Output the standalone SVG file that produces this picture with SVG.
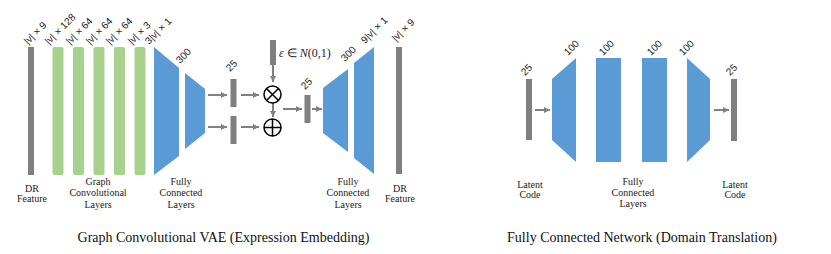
<svg xmlns="http://www.w3.org/2000/svg" width="831" height="254" viewBox="0 0 831 254">
<defs>
<style>
.gray{fill:#7f7f7f}
.green{fill:#a9d18e}
.blue{fill:#5b9bd5}
.lbl{font-family:"Liberation Sans",Arial,sans-serif;font-size:10px;fill:#222}
.cap{font-family:"Liberation Serif","Times New Roman",serif;font-size:10px;fill:#222;text-anchor:middle}
.title{font-family:"Liberation Serif","Times New Roman",serif;font-size:14px;fill:#111;text-anchor:middle}
.arr{stroke:#808080;stroke-width:2;fill:none;marker-end:url(#ah)}
.op{fill:#fff;stroke:#000;stroke-width:1.5}
</style>
<marker id="ah" markerUnits="userSpaceOnUse" markerWidth="6" markerHeight="6" refX="6" refY="3" orient="auto">
<path d="M0,0 L6,3 L0,6 z" fill="#808080"/>
</marker>
</defs>
<rect width="831" height="254" fill="#fff"/>

<g id="connectors">
<line class="arr" x1="208" y1="95" x2="227" y2="95"/>
<line class="arr" x1="208" y1="127" x2="227" y2="127"/>
<line class="arr" x1="241" y1="95" x2="259" y2="95"/>
<line class="arr" x1="241" y1="127" x2="259" y2="127"/>
<line class="arr" x1="273" y1="65" x2="273" y2="82"/>
<line class="arr" x1="273" y1="103" x2="273" y2="117"/>
<line class="arr" x1="283" y1="109" x2="302" y2="109"/>
<line class="arr" x1="312" y1="109" x2="322" y2="109"/>
<line class="arr" x1="535" y1="110" x2="550" y2="110"/>
<line class="arr" x1="714" y1="110" x2="729" y2="110"/>
</g>

<g id="dr-in">
<rect class="gray" x="28" y="47" width="6" height="128"/>
<text class="lbl" transform="translate(28,45) rotate(-45)">|v| × 9</text>
</g>
<g id="gc1">
<rect class="green" x="52.5" y="47" width="11" height="128" rx="2"/>
<text class="lbl" transform="translate(49,45) rotate(-45)">|v| × 128</text>
</g>
<g id="gc2">
<rect class="green" x="73" y="47" width="11" height="128" rx="2"/>
<text class="lbl" transform="translate(70,45) rotate(-45)">|v| × 64</text>
</g>
<g id="gc3">
<rect class="green" x="93.5" y="47" width="11" height="128" rx="2"/>
<text class="lbl" transform="translate(90,45) rotate(-45)">|v| × 64</text>
</g>
<g id="gc4">
<rect class="green" x="114" y="47" width="11" height="128" rx="2"/>
<text class="lbl" transform="translate(110,45) rotate(-45)">|v| × 64</text>
</g>
<g id="gc5">
<rect class="green" x="134.5" y="47" width="11" height="128" rx="2"/>
<text class="lbl" transform="translate(132,45) rotate(-45)">|v| × 3</text>
</g>
<g id="enc-fc1">
<polygon class="blue" points="154,47 179,68 179,156 154,175"/>
<text class="lbl" transform="translate(149,45) rotate(-45)">3|v| × 1</text>
</g>
<g id="enc-fc2">
<polygon class="blue" points="185,73 205,89 205,133 185,149"/>
<text class="lbl" transform="translate(180,64) rotate(-45)">300</text>
</g>
<g id="mu">
<rect class="gray" x="230.5" y="79" width="6" height="28"/>
<text class="lbl" transform="translate(230,72) rotate(-45)">25</text>
</g>
<g id="sigma">
<rect class="gray" x="230.5" y="116" width="6" height="28"/>
</g>
<g id="eps">
<rect class="gray" x="270" y="40" width="6" height="25"/>
<text x="279" y="57" style="font-family:'Liberation Serif','Times New Roman',serif;font-size:12px;fill:#222"><tspan font-style="italic">ε</tspan> ∈ <tspan font-style="italic">N</tspan>(0,1)</text>
</g>
<g id="mul">
<circle class="op" cx="272.5" cy="94.5" r="8.5"/>
<path d="M266.5,88.5 L278.5,100.5 M278.5,88.5 L266.5,100.5" stroke="#000" stroke-width="1.5"/>
</g>
<g id="add">
<circle class="op" cx="272.5" cy="127.5" r="8.5"/>
<path d="M264,127.5 L281,127.5 M272.5,119 L272.5,136" stroke="#000" stroke-width="1.5"/>
</g>
<g id="z">
<rect class="gray" x="304.5" y="95" width="6" height="28"/>
<text class="lbl" transform="translate(305,90) rotate(-45)">25</text>
</g>
<g id="dec-fc1">
<polygon class="blue" points="323,88 348,69 348,152 323,133"/>
<text class="lbl" transform="translate(345,62) rotate(-45)">300</text>
</g>
<g id="dec-fc2">
<polygon class="blue" points="354,63 374,47 374,174 354,158"/>
<text class="lbl" transform="translate(365,44) rotate(-45)">9|v| × 1</text>
</g>
<g id="dr-out">
<rect class="gray" x="396" y="47" width="6" height="127"/>
<text class="lbl" transform="translate(396,42) rotate(-45)">|v| × 9</text>
</g>

<g id="captions-left">
<text class="cap" x="32" y="192">DR</text>
<text class="cap" x="32" y="202">Feature</text>
<text class="cap" x="98" y="184.5">Graph</text>
<text class="cap" x="98" y="196">Convolutional</text>
<text class="cap" x="98" y="207.5">Layers</text>
<text class="cap" x="181" y="184.5">Fully</text>
<text class="cap" x="181" y="196">Connected</text>
<text class="cap" x="181" y="207.5">Layers</text>
<text class="cap" x="348" y="184.5">Fully</text>
<text class="cap" x="348" y="196">Connected</text>
<text class="cap" x="348" y="207.5">Layers</text>
<text class="cap" x="400" y="192">DR</text>
<text class="cap" x="400" y="202">Feature</text>
<text class="title" x="223.5" y="242">Graph Convolutional VAE (Expression Embedding)</text>
</g>

<g id="lat-in">
<rect class="gray" x="526" y="79" width="6" height="61"/>
<text class="lbl" transform="translate(525,76) rotate(-45)">25</text>
</g>
<g id="dt-fc1">
<polygon class="blue" points="552,79 576,58 576,162 552,140"/>
<text class="lbl" transform="translate(568,56) rotate(-45)">100</text>
</g>
<g id="dt-fc2">
<rect class="blue" x="596" y="58" width="25" height="104"/>
<text class="lbl" transform="translate(603,56) rotate(-45)">100</text>
</g>
<g id="dt-fc3">
<rect class="blue" x="642" y="58" width="25" height="104"/>
<text class="lbl" transform="translate(651,56) rotate(-45)">100</text>
</g>
<g id="dt-fc4">
<polygon class="blue" points="687,58 710,79 710,140 687,162"/>
<text class="lbl" transform="translate(683,56) rotate(-45)">100</text>
</g>
<g id="lat-out">
<rect class="gray" x="731" y="79" width="6" height="62"/>
<text class="lbl" transform="translate(730,76) rotate(-45)">25</text>
</g>

<g id="captions-right">
<text class="cap" x="530" y="187.5">Latent</text>
<text class="cap" x="530" y="198">Code</text>
<text class="cap" x="633" y="185">Fully</text>
<text class="cap" x="633" y="196">Connected</text>
<text class="cap" x="633" y="207">Layers</text>
<text class="cap" x="735" y="187.5">Latent</text>
<text class="cap" x="735" y="198">Code</text>
<text class="title" x="642" y="242">Fully Connected Network (Domain Translation)</text>
</g>
</svg>
